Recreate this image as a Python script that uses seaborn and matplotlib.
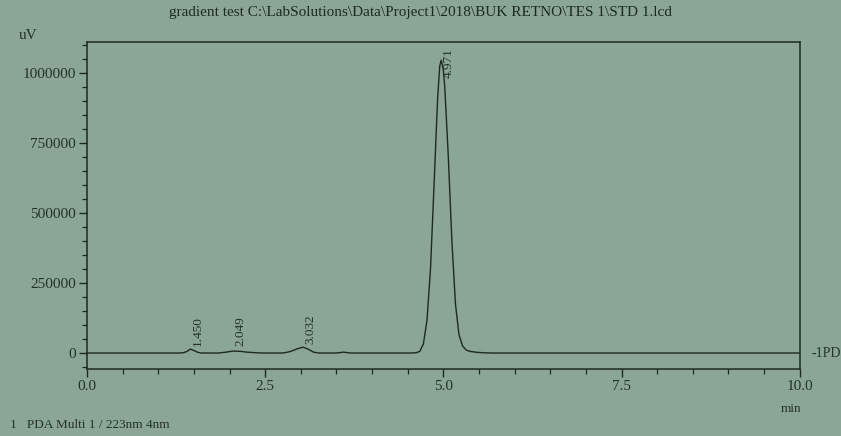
import matplotlib
matplotlib.use("Agg")
import matplotlib.pyplot as plt
import matplotlib.ticker as mticker
import seaborn as sns
import pandas as pd

# ---- data ----
time_min = [0.0, 1.30, 1.35, 1.40, 1.45, 1.50, 1.55, 1.60, 1.85, 1.95, 2.05, 2.15, 2.25, 2.40, 2.50,
            2.75, 2.85, 2.95, 3.03, 3.10, 3.18, 3.25, 3.50, 3.60, 3.70,
            4.55, 4.62, 4.67, 4.72, 4.77, 4.82, 4.87, 4.92, 4.95, 4.971, 5.00, 5.02, 5.07, 5.12,
            5.17, 5.22, 5.27, 5.32, 5.37, 5.47, 5.57, 5.70, 10.0]
signal_uv = [0, 0, 1000, 5000, 14000, 9000, 3000, 0, 0, 3000, 7000, 6000, 3000, 500, 0,
             0, 5000, 15000, 21000, 14000, 3000, 0, 0, 3000, 0,
             0, 1000, 6000, 32000, 115000, 300000, 600000, 910000, 1025000, 1045000, 1010000, 950000, 700000, 400000,
             175000, 65000, 25000, 11000, 6000, 2500, 800, 0, 0]

peak_times = [1.450, 2.049, 3.032, 4.971]
peak_labels = ["1.450", "2.049", "3.032", "4.971"]
label_y = [26000, 26000, 32000, 1089000]
label_va = ["bottom", "bottom", "bottom", "top"]

x_ticks = [0.0, 2.5, 5.0, 7.5, 10.0]
x_tick_labels = ["0.0", "2.5", "5.0", "7.5", "10.0"]
y_ticks = [0, 250000, 500000, 750000, 1000000]

title = r"gradient test C:\LabSolutions\Data\Project1\2018\BUK RETNO\TES 1\STD 1.lcd"
footer = "1   PDA Multi 1 / 223nm 4nm"
channel_tag = "-1PD"

# ---- styling ----
sns.set_theme(style="ticks")
plt.rcParams["font.family"] = ["Liberation Serif", "DejaVu Serif"]
bg = "#8ba597"
ink = "#1c2a22"
txt = "#24332a"

fig = plt.figure(figsize=(8.41, 4.36), dpi=100, facecolor=bg)
ax = fig.add_axes([0.1034, 0.1537, 0.8475, 0.75])
ax.set_facecolor(bg)

df = pd.DataFrame({"t": time_min, "uV": signal_uv})
sns.lineplot(data=df, x="t", y="uV", ax=ax, color=ink, linewidth=1.0, clip_on=False)

ax.set_xlim(0, 10)
ax.set_ylim(-57000, 1110000)
ax.set_xticks(x_ticks)
ax.set_xticklabels(x_tick_labels)
ax.set_yticks(y_ticks)
ax.yaxis.set_major_formatter(mticker.FuncFormatter(lambda v, p: f"{int(v)}"))
ax.xaxis.set_minor_locator(mticker.MultipleLocator(0.5))
ax.yaxis.set_minor_locator(mticker.MultipleLocator(50000))
ax.tick_params(axis="both", which="major", direction="out", length=6, width=1.0,
               color=ink, labelcolor=txt, labelsize=11, pad=2)
ax.tick_params(axis="both", which="minor", direction="out", length=3.5, width=0.9, color=ink)
ax.set_xlabel("")
ax.set_ylabel("")
for s in ax.spines.values():
    s.set_color(ink)
    s.set_linewidth(1.1)
    s.set_visible(True)

for t, lab, y, va in zip(peak_times, peak_labels, label_y, label_va):
    ax.text(t + 0.10, y, lab, rotation=90, ha="center", va=va, fontsize=9.5, color=txt)

ax.text(10.16, 0, channel_tag, ha="left", va="center", fontsize=10, color=txt, clip_on=False)

fig.text(0.5, 0.972, title, ha="center", va="center", fontsize=11, color=ink)
fig.text(0.022, 0.918, "uV", ha="left", va="center", fontsize=11, color=txt)
fig.text(0.928, 0.063, "min", ha="left", va="center", fontsize=9.5, color=txt)
fig.text(0.012, 0.025, footer, ha="left", va="center", fontsize=9.5, color=txt)

fig.savefig("out.png", dpi=100, facecolor=bg)
